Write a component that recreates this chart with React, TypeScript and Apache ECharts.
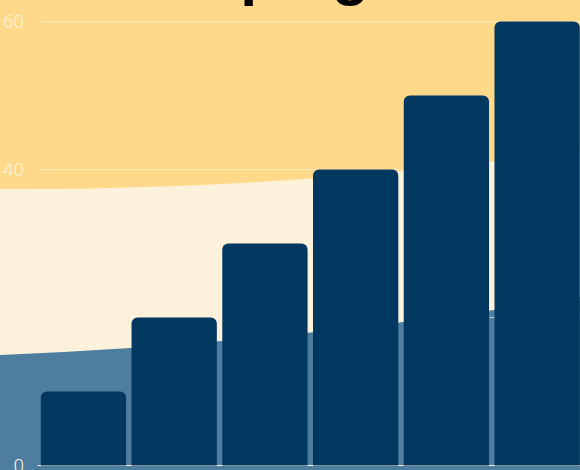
import React, { useEffect, useRef } from "react";
import * as echarts from "echarts";

const titleText = "Camping";
const categories = ["Mon", "Tue", "Wed", "Thu", "Fri", "Sat"];
const values = [10, 20, 30, 40, 50, 60];
const yMin = 0;
const yMax = 60;
const yInterval = 20;

const creamPath = "M0 249 Q300 250.3 600 208 L600 600 L0 600 Z";
const bluePath = "M0 415 Q300 403 600 354 L600 600 L0 600 Z";

let registered = false;
function registerShapes() {
  if (registered) return;
  echarts.graphic.registerShape("creamWave", echarts.graphic.extendPath(creamPath, {}));
  echarts.graphic.registerShape("blueWave", echarts.graphic.extendPath(bluePath, {}));
  registered = true;
}

export default function App() {
  const ref = useRef<HTMLDivElement>(null);
  useEffect(() => {
    document.body.style.margin = "0";
    document.body.style.overflow = "hidden";
    registerShapes();
    const chart = echarts.init(ref.current!, null, { renderer: "svg" });
    chart.setOption({
      animation: false,
      backgroundColor: "#FFD98A",
      title: {
        text: titleText,
        left: 103,
        top: -4,
        textStyle: {
          fontFamily: "Liberation Sans, Arial, sans-serif",
          fontSize: 61,
          fontWeight: "bold",
          color: "#000000",
        },
      },
      graphic: [
        { type: "creamWave", x: 0, y: 0, z: -10, silent: true, style: { fill: "#FCF2DC" } },
        { type: "blueWave", x: 0, y: 0, z: -9, silent: true, style: { fill: "#4D7EA0" } },
      ],
      grid: { left: 35.5, right: 17.5, top: 81.5, bottom: 74.5, containLabel: false },
      xAxis: {
        type: "category",
        data: categories,
        axisLine: { show: true, lineStyle: { color: "#FCF1D9", width: 1 } },
        axisTick: { show: false },
        axisLabel: { color: "#FCF1D9", fontSize: 19, margin: 14 },
      },
      yAxis: {
        type: "value",
        min: yMin,
        max: yMax,
        interval: yInterval,
        axisLine: { show: false },
        axisTick: { show: false },
        axisLabel: {
          color: "#FCF1D9",
          fontSize: 19,
          fontFamily: "Roboto, sans-serif",
          fontWeight: 300,
          margin: 14,
        },
        splitLine: { lineStyle: { color: "#FCF2DC", opacity: 0.6, width: 1 } },
      },
      series: [
        {
          type: "bar",
          data: values,
          barCategoryGap: "6%",
          itemStyle: { color: "#02375F", borderRadius: [6, 6, 0, 0] },
        },
      ],
    });
    return () => chart.dispose();
  }, []);
  return (
    <div
      ref={ref}
      style={{ position: "fixed", left: 0, top: -60, width: 600, height: 600 }}
    />
  );
}
